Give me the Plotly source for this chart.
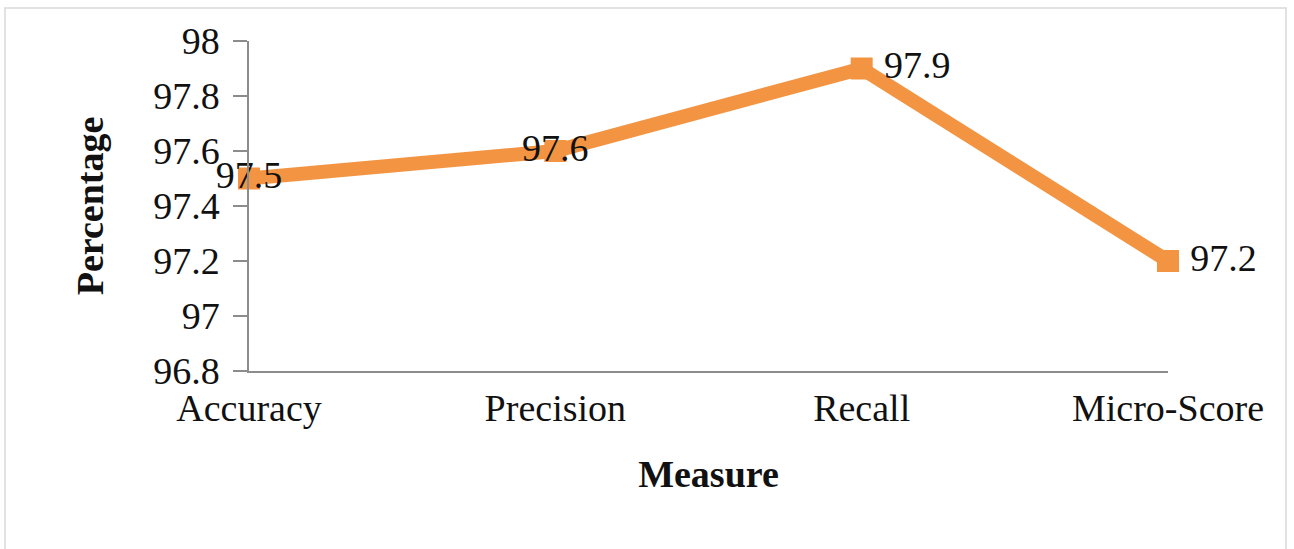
import plotly.graph_objects as go

# Evaluation measures and their scores (%)
measures = ["Accuracy", "Precision", "Recall", "Micro-Score"]
scores = [97.5, 97.6, 97.9, 97.2]
label_positions = ["middle center", "middle center", "middle right", "middle right"]

y_ticks = [96.8, 97.0, 97.2, 97.4, 97.6, 97.8, 98.0]
y_tick_text = ["96.8", "97", "97.2", "97.4", "97.6", "97.8", "98"]

ORANGE = "#F39442"
AXIS_GREY = "#8C8C8C"
FONT = "Liberation Serif"

W, H = 1294, 549
L, R, T, B = 249, 126, 41, 178
pw, ph = W - L - R, H - T - B

fig = go.Figure()
fig.add_trace(go.Scatter(
    x=list(range(len(measures))),
    y=scores,
    mode="lines+markers+text",
    line=dict(color=ORANGE, width=14),
    marker=dict(symbol="square", size=22, color=ORANGE),
    text=[f"{v:.1f}" if p == "middle center" else f"\u2009{v:.1f}"
          for v, p in zip(scores, label_positions)],
    textposition=label_positions,
    textfont=dict(family=FONT, size=38, color="#111111"),
    cliponaxis=False,
    showlegend=False,
))

# light frame around the whole chart
def px_x(p):
    return (p - L) / pw

def px_y(p):
    return (H - B - p) / ph

fig.add_shape(type="rect", xref="paper", yref="paper",
              x0=px_x(5), x1=px_x(1286), y0=px_y(560), y1=px_y(8),
              line=dict(color="#D9D9D9", width=1.5), fillcolor="rgba(0,0,0,0)",
              layer="below")

fig.update_layout(
    width=W, height=H,
    margin=dict(l=L, r=R, t=T, b=B, pad=0),
    paper_bgcolor="white",
    plot_bgcolor="white",
    font=dict(family=FONT, size=38, color="#111111"),
    xaxis=dict(
        range=[0, 3],
        tickmode="array",
        tickvals=list(range(len(measures))),
        ticktext=measures,
        showgrid=False, zeroline=False,
        showline=True, linecolor=AXIS_GREY, linewidth=1.5,
        ticks="", tickfont=dict(family=FONT, size=38),
        ticklabelstandoff=3,
        title=dict(text="<b>Measure</b>", font=dict(family=FONT, size=38), standoff=32),
    ),
    yaxis=dict(
        range=[96.8, 98.0],
        tickmode="array",
        tickvals=y_ticks,
        ticktext=y_tick_text,
        showgrid=False, zeroline=False,
        showline=True, linecolor=AXIS_GREY, linewidth=1.5,
        ticks="outside", ticklen=14, tickcolor=AXIS_GREY, tickwidth=1.5,
        tickfont=dict(family=FONT, size=38),
        ticklabelstandoff=6,
        title=dict(text="<b>Percentage</b>", font=dict(family=FONT, size=38), standoff=38),
    ),
)

fig.write_html("out.html")
